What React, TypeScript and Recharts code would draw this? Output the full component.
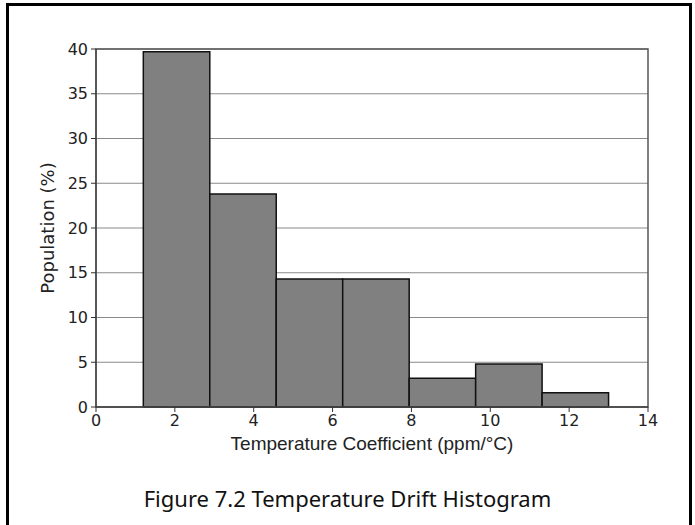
import React from 'react';
import {
  ComposedChart,
  Line,
  XAxis,
  YAxis,
  CartesianGrid,
  ReferenceArea
} from 'recharts';

// Histogram bins (ppm/°C) and share of the population (%)
const binEdges = [1.2, 2.886, 4.571, 6.257, 7.943, 9.629, 11.314, 13.0];
const population = [39.7, 23.8, 14.3, 14.3, 3.2, 4.8, 1.6];

const xTicks = [0, 2, 4, 6, 8, 10, 12, 14];
const yTicks = [0, 5, 10, 15, 20, 25, 30, 35, 40];

const xLabel = 'Temperature Coefficient (ppm/°C)';
const yLabel = 'Population (%)';
const caption = 'Figure 7.2 Temperature Drift Histogram';

const bins = population.map((value, i) => ({
  x0: binEdges[i],
  x1: binEdges[i + 1],
  x: (binEdges[i] + binEdges[i + 1]) / 2,
  value
}));

const tickStyle = { fill: '#222', fontSize: 16, fontFamily: 'DejaVu Sans' };

const XLabel = ({ viewBox }: any) => {
  if (!viewBox) return null;
  return (
    <text
      x={viewBox.x + viewBox.width / 2}
      y={viewBox.y + 43}
      textAnchor="middle"
      fill="#222"
      fontSize={19}
      fontFamily="Liberation Sans"
    >
      {xLabel}
    </text>
  );
};

const YLabel = ({ viewBox }: any) => {
  if (!viewBox) return null;
  const cx = viewBox.x + 11;
  const cy = viewBox.y + viewBox.height / 2;
  return (
    <text
      x={cx}
      y={cy}
      transform={`rotate(-90, ${cx}, ${cy})`}
      textAnchor="middle"
      dominantBaseline="central"
      fill="#222"
      fontSize={18}
      fontFamily="DejaVu Sans"
    >
      {yLabel}
    </text>
  );
};

export default function App() {
  return (
    <div style={{ position: 'absolute', left: 0, top: 0, width: 695, height: 525, background: '#fff', overflow: 'hidden' }}>
      <div
        style={{
          position: 'absolute',
          left: 6,
          top: 3,
          width: 686,
          height: 540,
          boxSizing: 'border-box',
          borderTop: '3px solid #000',
          borderLeft: '3px solid #000',
          borderRight: '3px solid #000'
        }}
      />
      <div style={{ position: 'absolute', left: 0, top: 0 }}>
        <ComposedChart
          width={695}
          height={525}
          data={bins}
          margin={{ top: 49, right: 47, left: 36, bottom: 78 }}
        >
          <CartesianGrid vertical={false} stroke="#8a8a8a" strokeWidth={1} />
          <XAxis
            type="number"
            dataKey="x"
            domain={[0, 14]}
            ticks={xTicks}
            allowDataOverflow
            height={40}
            tick={tickStyle}
            tickSize={5}
            tickMargin={3}
            tickLine={{ stroke: '#333' }}
            axisLine={{ stroke: '#333' }}
            label={<XLabel />}
          />
          <YAxis
            type="number"
            domain={[0, 40]}
            ticks={yTicks}
            allowDataOverflow
            width={60}
            tick={tickStyle}
            tickSize={5}
            tickMargin={3}
            tickLine={{ stroke: '#333' }}
            axisLine={{ stroke: '#333' }}
            label={<YLabel />}
          />
          {bins.map((b, i) => (
            <ReferenceArea
              key={i}
              x1={b.x0}
              x2={b.x1}
              y1={0}
              y2={b.value}
              fill="#808080"
              fillOpacity={1}
              stroke="#111"
              strokeWidth={1.5}
            />
          ))}
          <ReferenceArea
            x1={0}
            x2={14}
            y1={0}
            y2={40}
            fill="none"
            stroke="#555"
            strokeWidth={1.5}
          />
          <Line
            dataKey="value"
            stroke="none"
            dot={false}
            activeDot={false}
            isAnimationActive={false}
          />
        </ComposedChart>
      </div>
      <div
        style={{
          position: 'absolute',
          left: 0,
          width: 695,
          top: 483,
          textAlign: 'center',
          fontFamily: 'Noto Sans',
          fontSize: 22,
          color: '#111'
        }}
      >
        {caption}
      </div>
    </div>
  );
}
